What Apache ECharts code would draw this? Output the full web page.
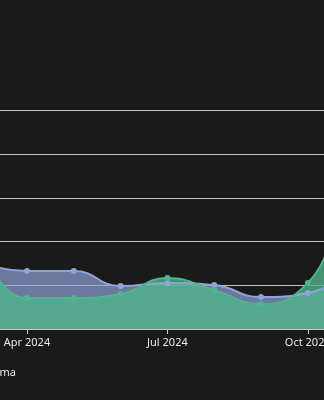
<!DOCTYPE html>
<html>
<head>
<meta charset="utf-8">
<script src="https://cdn.jsdelivr.net/npm/echarts@6/dist/echarts.min.js"></script>
<style>
html, body { margin:0; padding:0; width:324px; height:400px; overflow:hidden; background:#1a1a1a; }
#wrap { position:absolute; left:0; top:0; width:324px; height:400px; overflow:hidden; }
#chart { position:absolute; left:-200px; top:0; width:660px; height:400px; }
</style>
</head>
<body>
<div id="wrap"><div id="chart"></div></div>
<script>
const months = ['Jan 2024','Feb 2024','Mar 2024','Apr 2024','May 2024','Jun 2024','Jul 2024','Aug 2024','Sep 2024','Oct 2024','Nov 2024','Dec 2024'];
const seriesNames = ['Mistral', 'Llama'];
const mistralValues = [33, 31, 29.5, 26.5, 26.5, 19.7, 21.1, 20.1, 14.6, 16.5, 25.6, 30];
const llamaValues = [22, 24, 25.5, 14.2, 14.2, 16.0, 23.3, 17.8, 11.4, 21.1, 55, 58];
const yTicks = { min: 0, max: 100, interval: 20 };

const OFFSET = -200, W = 660;
const chart = echarts.init(document.getElementById('chart'), null, { renderer: 'canvas' });
const font = 'Noto Sans, sans-serif';
chart.setOption({
  backgroundColor: '#1a1a1a',
  animation: false,
  legend: {
    data: seriesNames,
    right: W - (16 - OFFSET) - 5,
    top: 362,
    itemWidth: 14, itemHeight: 10,
    textStyle: { color: '#e8e8e8', fontSize: 11, fontFamily: font }
  },
  grid: { left: 86.6, right: 58.6, top: 110.5, bottom: 71, outerBoundsMode: 'none' },
  xAxis: {
    type: 'category',
    data: months,
    boundaryGap: false,
    axisLine: { lineStyle: { color: '#c8c8c8', width: 1 } },
    axisTick: { interval: 2, length: 5, lineStyle: { color: '#c8c8c8' } },
    axisLabel: { interval: 2, color: '#e8e8e8', fontSize: 11, fontFamily: font, margin: 8 },
    splitLine: { show: false }
  },
  yAxis: {
    type: 'value',
    min: yTicks.min, max: yTicks.max, interval: yTicks.interval,
    axisLine: { show: false },
    axisTick: { show: false },
    axisLabel: { color: '#e8e8e8', fontSize: 11, fontFamily: font },
    splitLine: { lineStyle: { color: '#c4c4c4', width: 1 } }
  },
  series: [
    {
      name: seriesNames[0], type: 'line', smooth: true, data: mistralValues,
      symbol: 'circle', symbolSize: 6,
      lineStyle: { color: '#8fa4d8', width: 2 },
      itemStyle: { color: '#8fa4d8' },
      areaStyle: { color: '#8fa3d9', opacity: 0.7 }
    },
    {
      name: seriesNames[1], type: 'line', smooth: true, data: llamaValues,
      symbol: 'circle', symbolSize: 6,
      lineStyle: { color: '#50b48c', width: 2 },
      itemStyle: { color: '#50b48c' },
      areaStyle: { color: '#50b48c', opacity: 0.8 }
    }
  ]
});
</script>
</body>
</html>
